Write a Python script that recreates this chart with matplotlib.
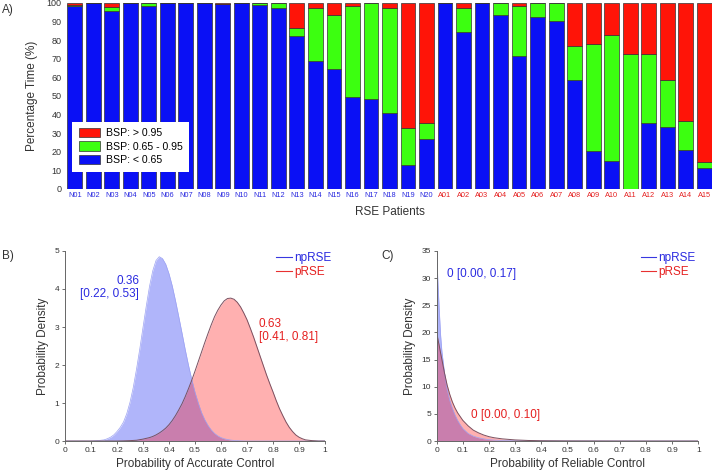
import matplotlib.pyplot as plt
import numpy as np

plt.rcParams['font.family'] = ['Liberation Sans', 'DejaVu Sans']

# Panel A: percentage of time in each BSP band per patient
patients = ['N01', 'N02', 'N03', 'N04', 'N05', 'N06', 'N07', 'N08', 'N09', 'N10',
            'N11', 'N12', 'N13', 'N14', 'N15', 'N16', 'N17', 'N18', 'N19', 'N20',
            'A01', 'A02', 'A03', 'A04', 'A05', 'A06', 'A07', 'A08', 'A09', 'A10',
            'A11', 'A12', 'A13', 'A14', 'A15']
bsp_low = [98.5, 100, 95.5, 100, 98.2, 100, 100, 100, 99.5, 100,
           98.7, 97.5, 82.3, 68.5, 64.6, 49.2, 48.1, 40.6, 13.1, 26.7,
           100, 84.1, 100, 93.7, 71.4, 92.5, 90.2, 58.5, 20.4, 15.0,
           0, 35.4, 33.5, 21.1, 11.4]
bsp_mid = [0.5, 0, 2.4, 0, 1.8, 0, 0, 0, 0, 0,
           1.3, 2.5, 4.3, 29.0, 29.1, 49.2, 51.9, 56.9, 19.5, 8.9,
           0, 13.4, 0, 6.3, 26.8, 7.5, 9.8, 18.4, 57.6, 67.5,
           72.3, 37.2, 25.2, 15.6, 2.9]
bsp_high = [1.0, 0, 2.1, 0, 0, 0, 0, 0, 0.5, 0,
            0, 0, 13.4, 2.5, 6.3, 1.6, 0, 2.5, 67.4, 64.4,
            0, 2.5, 0, 0, 1.8, 0, 0, 23.1, 22.0, 17.5,
            27.7, 27.4, 41.3, 63.3, 85.7]

# Panel B: posterior densities of accurate control, read at x = 0, 0.1, 0.1125, ... 0.975, 1
acc_x = [0.0] + list(np.round(np.arange(0.1, 0.9751, 0.0125), 4)) + [1.0]
acc_np = ([0]
          + [0, 0.005, 0.01, 0.02, 0.03, 0.06, 0.1, 0.16, 0.25, 0.36, 0.5, 0.72,
             1.02, 1.41, 1.89, 2.42, 2.99, 3.55, 4.07, 4.48, 4.75, 4.85, 4.80, 4.65,
             4.40, 4.08, 3.69, 3.27, 2.84, 2.40, 1.99, 1.62, 1.28, 1.0, 0.75, 0.56,
             0.41, 0.29, 0.2, 0.135, 0.09, 0.06, 0.04, 0.025, 0.015, 0.01, 0.005, 0.002]
          + [0] * 23 + [0])
acc_p = ([0]
         + [0, 0, 0, 0, 0, 0, 0, 0, 0, 0.002, 0.004, 0.007,
            0.01, 0.015, 0.02, 0.035, 0.05, 0.07, 0.09, 0.12, 0.16, 0.21, 0.27, 0.34,
            0.43, 0.54, 0.67, 0.82, 0.98, 1.17, 1.38, 1.6, 1.84, 2.09, 2.34, 2.59,
            2.83, 3.06, 3.27, 3.44, 3.58, 3.69, 3.75, 3.76, 3.73, 3.65, 3.53, 3.37,
            3.19, 2.97, 2.74, 2.49, 2.24, 1.99, 1.74, 1.51, 1.29, 1.06, 0.85, 0.67,
            0.5, 0.36, 0.25, 0.16, 0.1, 0.06, 0.03, 0.02, 0.01, 0.005, 0]
         + [0])

# Panel C: posterior densities of reliable control
rel_x = [0.0, 0.005, 0.01, 0.015, 0.02, 0.03, 0.04, 0.05, 0.06, 0.07, 0.08, 0.09,
         0.1, 0.12, 0.14, 0.16, 0.18, 0.2, 0.22, 0.25, 0.3, 0.35, 0.4, 0.5, 0.7, 1.0]
rel_np = [34.5, 29, 24, 19.5, 16.5, 12.5, 9.5, 7.5, 6.0, 4.8, 3.8, 3.0,
          2.3, 1.4, 0.9, 0.6, 0.4, 0.25, 0.17, 0.1, 0.05, 0.03, 0.02, 0.01, 0, 0]
rel_p = [20, 18.7, 17.5, 16.2, 15, 12.5, 10.3, 8.6, 7.2, 6.1, 5.2, 4.5,
         3.8, 2.8, 2.0, 1.5, 1.1, 0.8, 0.6, 0.4, 0.2, 0.1, 0.05, 0.02, 0, 0]

blue_bar = '#0a10f5'
green_bar = '#3cff10'
red_bar = '#ff1408'
txt_blue = '#2a2ae0'
txt_red = '#e52020'

fig = plt.figure(figsize=(7.12, 4.76), dpi=100)

# ---- A ----
axA = fig.add_axes([0.094, 0.603, 0.906, 0.391])
xs = np.arange(len(patients))
low = np.array(bsp_low)
mid = np.array(bsp_mid)
high = np.array(bsp_high)
kw = dict(width=0.8, edgecolor='#333333', linewidth=0.5)
axA.bar(xs, low, color=blue_bar, label='BSP: < 0.65', **kw)
axA.bar(xs, mid, bottom=low, color=green_bar, label='BSP: 0.65 - 0.95', **kw)
axA.bar(xs, high, bottom=low + mid, color=red_bar, label='BSP: > 0.95', **kw)
axA.set_xlim(-0.42, len(patients) - 0.58)
axA.set_ylim(0, 100)
axA.set_yticks(range(0, 101, 10))
axA.tick_params(axis='y', length=0, labelsize=6.5, labelcolor='#333333', pad=4)
axA.set_xticks(xs)
axA.set_xticklabels(patients, fontsize=5.3)
for lab in axA.get_xticklabels():
    lab.set_color(txt_blue if lab.get_text().startswith('N') else txt_red)
axA.tick_params(axis='x', length=0, pad=2)
for s in axA.spines.values():
    s.set_visible(False)
axA.set_ylabel('Percentage Time (%)', fontsize=8.5, color='#333333', labelpad=6)
axA.set_xlabel('RSE Patients', fontsize=8.5, color='#333333', labelpad=5)
h, l = axA.get_legend_handles_labels()
leg = axA.legend(h[::-1], l[::-1], loc='lower left', bbox_to_anchor=(0.0, 0.065),
                 fontsize=7.6, frameon=True, fancybox=False, framealpha=1,
                 handlelength=2.0, handleheight=1.0, handletextpad=0.6,
                 borderpad=0.6, labelspacing=0.3)
leg.get_frame().set_edgecolor('none')
fig.text(0.003, 0.972, 'A)', fontsize=8.5, color='#333333')


def density_panel(rect, x, ynp, yp, ylim, yticks, xlabel):
    ax = fig.add_axes(rect)
    ax.fill_between(x, ynp, color='#0010f0', alpha=0.31, linewidth=0)
    ax.fill_between(x, yp, color='#ff1010', alpha=0.33, linewidth=0)
    ax.plot(x, ynp, color='#9ca2f2', lw=0.5)
    ax.plot(x, yp, color='#7a5060', lw=0.7)
    ax.plot([], [], color='#3838e0', lw=0.8, label='npRSE')
    ax.plot([], [], color='#e83030', lw=0.8, label='pRSE')
    ax.set_xlim(0, 1)
    ax.set_ylim(*ylim)
    ax.set_xticks(np.arange(0, 1.01, 0.1))
    ax.set_xticklabels(['0', '0.1', '0.2', '0.3', '0.4', '0.5', '0.6', '0.7', '0.8', '0.9', '1'])
    ax.set_yticks(yticks)
    ax.tick_params(labelsize=6, colors='#555555', labelcolor='#333333', length=2.5,
                   width=0.6, pad=1.5)
    for s in ['top', 'right']:
        ax.spines[s].set_visible(False)
    for s in ['left', 'bottom']:
        ax.spines[s].set_color('#666666')
        ax.spines[s].set_linewidth(0.7)
    ax.set_xlabel(xlabel, fontsize=8.5, color='#333333', labelpad=3)
    ax.set_ylabel('Probability Density', fontsize=8.5, color='#333333', labelpad=4)
    lg = ax.legend(loc='upper right', bbox_to_anchor=(1.065, 1.05), fontsize=8.5,
                   frameon=False, handlelength=1.3, handletextpad=0.2, labelspacing=0.2)
    for t, c in zip(lg.get_texts(), [txt_blue, txt_red]):
        t.set_color(c)
    return ax


axB = density_panel([0.0913, 0.0735, 0.3652, 0.3992], acc_x, acc_np, acc_p,
                    (0, 5), range(0, 6), 'Probability of Accurate Control')
axB.text(0.285, 4.05, '0.36\n[0.22, 0.53]', color=txt_blue, fontsize=8.5,
         ha='right', va='center', multialignment='right', linespacing=1.1)
axB.text(0.745, 2.9, '0.63\n[0.41, 0.81]', color=txt_red, fontsize=8.5,
         ha='left', va='center', linespacing=1.1)
fig.text(0.003, 0.455, 'B)', fontsize=8.5, color='#333333')

axC = density_panel([0.6133, 0.0735, 0.3675, 0.3992], rel_x, rel_np, rel_p,
                    (0, 35), range(0, 36, 5), 'Probability of Reliable Control')
axC.legend_.set_bbox_to_anchor((1.03, 1.05))
axC.text(0.04, 30.8, '0 [0.00, 0.17]', color=txt_blue, fontsize=8.5, va='center')
axC.text(0.13, 4.8, '0 [0.00, 0.10]', color=txt_red, fontsize=8.5, va='center')
fig.text(0.535, 0.455, 'C)', fontsize=8.5, color='#333333')

fig.savefig('out.png', dpi=100)
